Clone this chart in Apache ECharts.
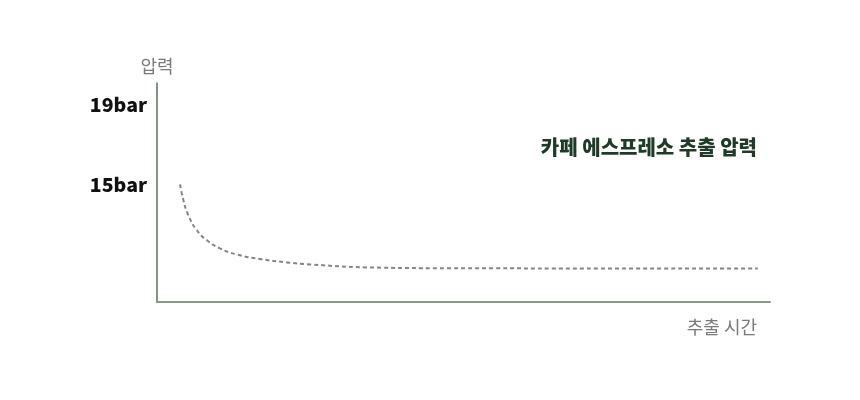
<!DOCTYPE html>
<html>
<head>
<meta charset="utf-8">
<script src="https://cdn.jsdelivr.net/npm/echarts@6/dist/echarts.min.js"></script>
<style>
html,body{margin:0;padding:0;background:#fff;}
#main{width:860px;height:400px;}
</style>
</head>
<body>
<div id="main"></div>
<script>
// 추출 시간(초) / 압력(bar)
var times = [1.13, 1.29, 1.53, 1.94, 2.43, 3.08, 3.9, 5.04, 6.35, 7.5, 10.3, 14.2, 21.7, 29.4];
var pressures = [15.03, 14.25, 13.5, 12.75, 12.25, 11.83, 11.53, 11.3, 11.13, 11.03, 10.88, 10.84, 10.83, 10.83];
var pressureTicks = [15, 19];

var points = [];
for (var i = 0; i < times.length; i++) {
	points.push([times[i], pressures[i]]);
}

var font = '"Noto Sans CJK KR", "Noto Sans", sans-serif';
var myChart = echarts.init(document.getElementById('main'));
var option = {
	animation: false,
	title: {
		text: '카페 에스프레소 추출 압력',
		right: 103,
		top: 137,
		padding: 0,
		textStyle: {
			fontFamily: font,
			fontSize: 20,
			fontWeight: 900,
			color: '#1f3a28'
		}
	},
	grid: {
		left: 157,
		right: 90,
		top: 83,
		bottom: 98
	},
	xAxis: {
		type: 'value',
		min: 0,
		max: 30,
		name: '추출 시간',
		nameLocation: 'end',
		nameGap: -13,
		nameTextStyle: {
			fontFamily: font,
			fontSize: 18,
			color: '#7a7a7a',
			align: 'right',
			verticalAlign: 'top',
			padding: [16, 0, 0, 0]
		},
		axisLine: {lineStyle: {color: '#8a978a', width: 2}},
		axisTick: {show: false},
		axisLabel: {show: false},
		splitLine: {show: false}
	},
	yAxis: {
		type: 'value',
		min: 9.15,
		max: 20.1,
		name: '압력',
		nameLocation: 'end',
		nameGap: 8,
		nameTextStyle: {
			fontFamily: font,
			fontSize: 18,
			color: '#7a7a7a'
		},
		axisLine: {show: true, lineStyle: {color: '#5f6e5f', width: 1.5}},
		axisTick: {show: false},
		splitLine: {show: false},
		axisLabel: {
			customValues: pressureTicks,
			margin: 10,
			fontFamily: font,
			fontSize: 19.5,
			fontWeight: 900,
			color: '#111',
			formatter: function (v) { return v + 'bar'; }
		}
	},
	series: [
		{
			type: 'line',
			data: points,
			smooth: true,
			showSymbol: false,
			lineStyle: {
				color: '#858585',
				width: 2,
				type: [4, 3]
			}
		}
	]
};
myChart.setOption(option);
</script>
</body>
</html>
